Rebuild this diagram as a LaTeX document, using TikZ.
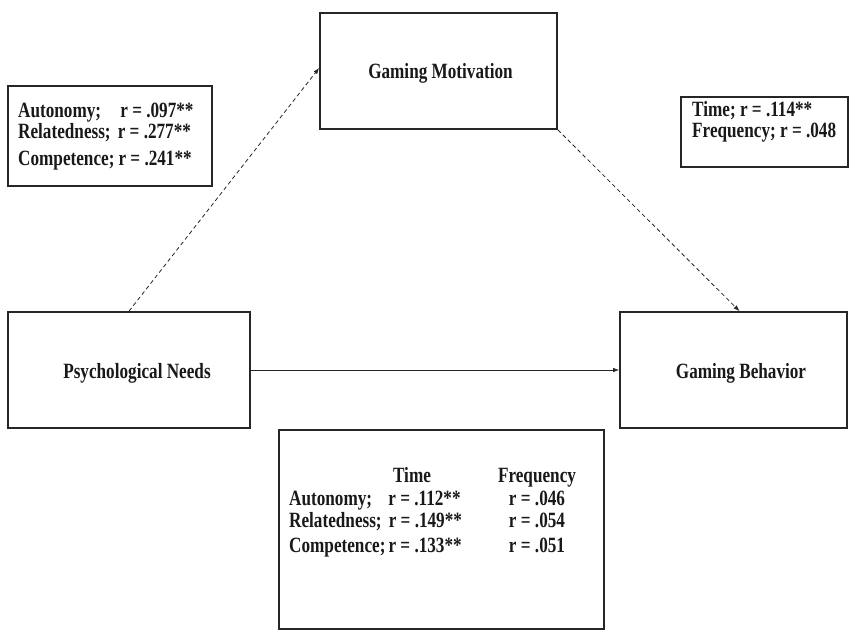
\documentclass[tikz,border=0pt]{standalone}
\usepackage{fontspec}
\setmainfont{Liberation Serif}
\usetikzlibrary{arrows.meta}
\newcommand{\tallt}[1]{\scalebox{1.01}[1.28]{#1}}
\begin{document}
\begin{tikzpicture}[x=1pt,y=-1pt,
  box/.style={draw=black!85, line width=1.7pt, rectangle, inner sep=0pt, font=\fontsize{17}{24}\selectfont\bfseries},
  txt/.style={inner sep=0pt, font=\fontsize{17}{24}\selectfont\bfseries, text=black!90},
  conn/.style={line width=0.8pt, draw=black!85, -{Latex[length=6pt,width=4.5pt]}},
  dconn/.style={conn, dash pattern=on 4pt off 3pt}]
\useasboundingbox[fill=white] (0,0) rectangle (851,631);
% main boxes
\node[box, minimum width=237pt, minimum height=116pt] (GM) at (438.5,71) {};
\node[box, minimum width=242pt, minimum height=116pt] (PN) at (129,370) {};
\node[box, minimum width=227pt, minimum height=116pt] (GB) at (733.5,370) {};
\node[txt, anchor=base] (GMt) at (440.5,79) {\tallt{Gaming Motivation}};
\node[txt, anchor=base] (PNt) at (137,378) {\tallt{Psychological Needs}};
\node[txt, anchor=base] (GBt) at (741,378) {\tallt{Gaming Behavior}};
% info boxes
\node[box, minimum width=204pt, minimum height=100pt] (TL) at (110,136) {};
\node[box, minimum width=167pt, minimum height=70pt] (TR) at (764.5,132) {};
\node[box, minimum width=325pt, minimum height=199pt] (BB) at (441.5,529.5) {};
% top-left text
\node[txt, anchor=base west] (tl1) at (18,118) {\tallt{Autonomy;\hspace{19pt}r = .097**}};
\node[txt, anchor=base west] (tl2) at (18,139) {\tallt{Relatedness;\hspace{7pt}r = .277**}};
\node[txt, anchor=base west] (tl3) at (18,166) {\tallt{Competence;\hspace{4pt}r = .241**}};
% top-right text
\node[txt, anchor=base west] (tr1) at (692,117) {\tallt{Time; r = .114**}};
\node[txt, anchor=base west] (tr2) at (692,138) {\tallt{Frequency; r = .048}};
% bottom text
\node[txt, anchor=base] (hTime) at (412,482) {\tallt{Time}};
\node[txt, anchor=base] (hFreq) at (537,482) {\tallt{Frequency}};
\node[txt, anchor=base west] (b1) at (289,505) {\tallt{Autonomy;\hspace{16pt}r = .112**}};
\node[txt, anchor=base west] (b2) at (289,527) {\tallt{Relatedness;\hspace{7pt}r = .149**}};
\node[txt, anchor=base west] (b3) at (289,552) {\tallt{Competence;\hspace{3pt}r = .133**}};
\node[txt, anchor=base] (f1) at (537,505) {\tallt{r = .046}};
\node[txt, anchor=base] (f2) at (537,527) {\tallt{r = .054}};
\node[txt, anchor=base] (f3) at (537,552) {\tallt{r = .051}};
% connectors
\draw[conn] (PN.east) -- (GB.west);
\draw[dconn] (PN.north) -- ([yshift=3pt]GM.west);
\draw[dconn] (GM.south east) -- ([xshift=6pt]GB.north);
\end{tikzpicture}
\end{document}
